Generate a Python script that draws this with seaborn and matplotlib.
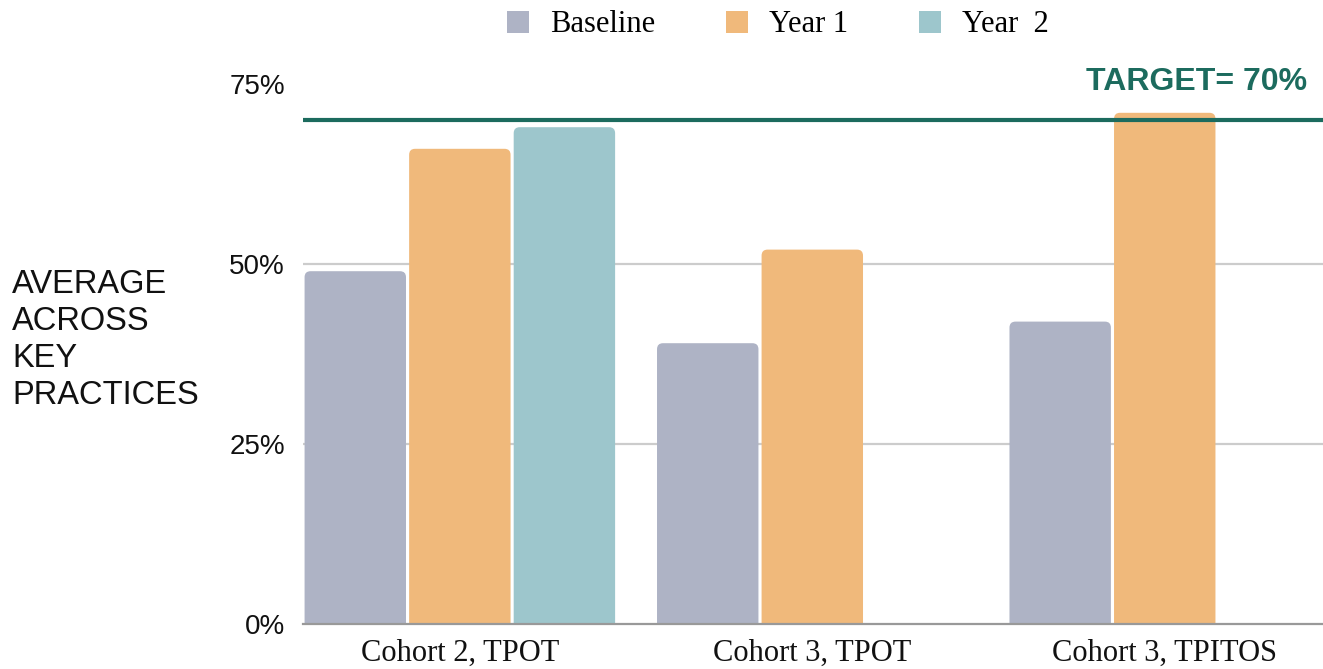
import numpy as np
import pandas as pd
import seaborn as sns
import matplotlib.pyplot as plt
from matplotlib.patches import FancyBboxPatch, Patch

cohorts = ['Cohort 2, TPOT', 'Cohort 3, TPOT', 'Cohort 3, TPITOS']
series = ['Baseline', 'Year 1', 'Year  2']
baseline = [49, 39, 42]
year1 = [66, 52, 71]
year2 = [69, np.nan, np.nan]
target = 70
yticks = [0, 25, 50, 75]
ytick_labels = ['0%', '25%', '50%', '75%']

palette = ['#AEB3C5', '#F0B97B', '#9DC6CC']
teal = '#1C6B5E'

df = pd.DataFrame({
    'cohort': cohorts * 3,
    'period': np.repeat(series, len(cohorts)),
    'value': baseline + year1 + year2,
})

W, H = 1323, 669
fig = plt.figure(figsize=(W / 100, H / 100), dpi=100)
ax = fig.add_axes([303 / W, 45 / H, 1020 / W, 540 / H])

sns.barplot(data=df, x='cohort', y='value', hue='period', order=cohorts,
            hue_order=series, palette=palette, saturation=1, width=0.89,
            gap=0.03, errorbar=None, legend=False, ax=ax)

xlim = (-0.445, 2.449)
ylim = (0, 75)
ax.set_xlim(*xlim)
ax.set_ylim(*ylim)

# swap the plain rectangles for bars with rounded tops
px_x = 1020 / (xlim[1] - xlim[0])
px_y = 540 / (ylim[1] - ylim[0])
for p in list(ax.patches):
    h = p.get_height()
    if np.isfinite(h) and h > 0:
        fb = FancyBboxPatch((p.get_x(), -2), p.get_width(), h + 2,
                            boxstyle=f'round,pad=0,rounding_size={6 / px_x}',
                            mutation_aspect=px_x / px_y,
                            fc=p.get_facecolor(), ec='none', lw=0, zorder=2)
        ax.add_patch(fb)
    p.remove()

ax.set_yticks(yticks)
ax.set_yticklabels(ytick_labels)
ax.yaxis.grid(True, color='#CCCCCC', lw=1.6)
ax.set_axisbelow(True)
ax.get_ygridlines()[-1].set_visible(False)
ax.get_ygridlines()[0].set_visible(False)

for s in ['top', 'right', 'left']:
    ax.spines[s].set_visible(False)
ax.spines['bottom'].set_color('#999999')
ax.spines['bottom'].set_linewidth(1.6)
ax.spines['bottom'].set_zorder(3)

ax.tick_params(axis='y', length=0, pad=13, labelsize=20, labelcolor='#111111')
ax.tick_params(axis='x', length=0, pad=11, labelsize=22, labelcolor='#111111')
for lab in ax.get_yticklabels():
    lab.set_fontfamily('Liberation Sans')
for lab in ax.get_xticklabels():
    lab.set_fontfamily('Liberation Serif')
ax.set_xlabel('')
ax.set_ylabel('')

ax.axhline(target, color=teal, lw=3, zorder=4)
ax.text(0.984, 75.3, f'TARGET= {target}%', transform=ax.get_yaxis_transform(),
        ha='right', va='center', fontsize=23, fontweight='bold',
        family='Liberation Sans', color=teal, clip_on=False)

fig.text(12 / W, 1 - 340 / H, 'AVERAGE\nACROSS\nKEY\nPRACTICES',
         ha='left', va='center', fontsize=23.5, family='Liberation Sans',
         linespacing=1.24, color='#111111')

handles = [Patch(facecolor=c, edgecolor='none', label=s) for c, s in zip(palette, series)]
fig.legend(handles=handles, loc='center', bbox_to_anchor=(778 / W, 1 - 25 / H),
           ncol=3, frameon=False, prop={'family': 'Liberation Serif', 'size': 22},
           handlelength=0.72, handleheight=0.72, handletextpad=0.7,
           columnspacing=2.3, borderpad=0, borderaxespad=0)

fig.savefig('out.png', dpi=100)
